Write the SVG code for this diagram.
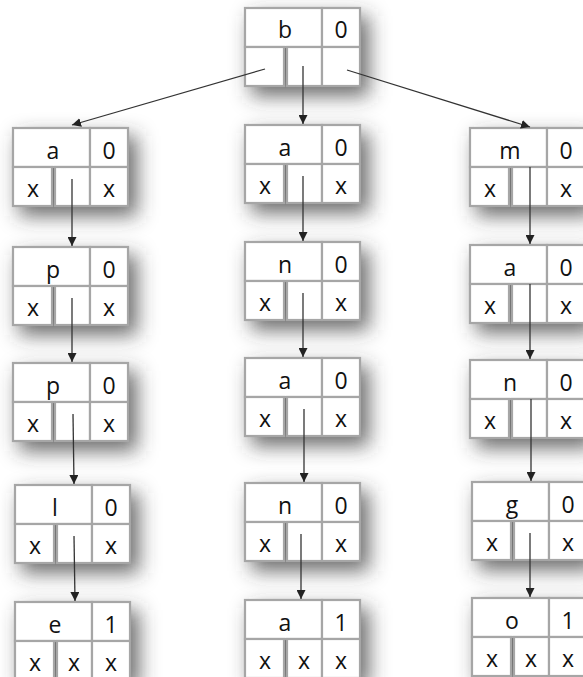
<svg xmlns="http://www.w3.org/2000/svg" width="583" height="677" viewBox="0 0 583 677">
<style>
.sd{fill:#3a3a3a;fill-opacity:0.75;filter:url(#blur)}
.c{fill:#fff;stroke:#a6a6a6;stroke-width:2.2}
.t{font-family:"Open Sans","Liberation Sans",sans-serif;font-size:23px;fill:#111;text-anchor:middle}
.e{stroke:#333;stroke-width:1.3;fill:none;marker-end:url(#ah)}
</style>
<defs>
<filter id="blur" x="-60%" y="-60%" width="220%" height="220%">
<feGaussianBlur stdDeviation="10"/>
</filter>
<marker id="ah" viewBox="0 0 10 10" refX="10" refY="5" markerWidth="9" markerHeight="9" markerUnits="userSpaceOnUse" orient="auto">
<path d="M0,0 L10,5 L0,10 Z" fill="#222"/>
</marker>
<g id="cells">
<rect class="sd" x="6" y="8" width="118" height="80"/>
<rect class="c" x="0" y="0" width="77" height="39"/>
<rect class="c" x="77" y="0" width="38" height="39"/>
<rect class="c" x="0" y="39" width="39" height="39"/>
<rect class="c" x="42" y="39" width="35" height="39"/>
<rect class="c" x="77" y="39" width="38" height="39"/>
</g>
</defs>

<g id="n-root" transform="translate(245,8)"><use href="#cells"/><text class="t" x="40" y="30">b</text><text class="t" x="96" y="30">0</text></g>

<g id="n-l1" transform="translate(13,128)"><use href="#cells"/><text class="t" x="40" y="31">a</text><text class="t" x="96" y="31">0</text><text class="t" x="20" y="69">x</text><text class="t" x="96" y="69">x</text></g>
<g id="n-l2" transform="translate(13,247)"><use href="#cells"/><text class="t" x="40" y="31">p</text><text class="t" x="96" y="31">0</text><text class="t" x="20" y="69">x</text><text class="t" x="96" y="69">x</text></g>
<g id="n-l3" transform="translate(13,363)"><use href="#cells"/><text class="t" x="40" y="31">p</text><text class="t" x="96" y="31">0</text><text class="t" x="20" y="69">x</text><text class="t" x="96" y="69">x</text></g>
<g id="n-l4" transform="translate(15,485)"><use href="#cells"/><text class="t" x="40" y="31">l</text><text class="t" x="96" y="31">0</text><text class="t" x="20" y="69">x</text><text class="t" x="96" y="69">x</text></g>
<g id="n-l5" transform="translate(15,602)"><use href="#cells"/><text class="t" x="40" y="31">e</text><text class="t" x="96" y="31">1</text><text class="t" x="20" y="69">x</text><text class="t" x="59" y="69">x</text><text class="t" x="96" y="69">x</text></g>

<g id="n-m1" transform="translate(245,125)"><use href="#cells"/><text class="t" x="40" y="31">a</text><text class="t" x="96" y="31">0</text><text class="t" x="20" y="69">x</text><text class="t" x="96" y="69">x</text></g>
<g id="n-m2" transform="translate(245,242)"><use href="#cells"/><text class="t" x="40" y="31">n</text><text class="t" x="96" y="31">0</text><text class="t" x="20" y="69">x</text><text class="t" x="96" y="69">x</text></g>
<g id="n-m3" transform="translate(245,358)"><use href="#cells"/><text class="t" x="40" y="31">a</text><text class="t" x="96" y="31">0</text><text class="t" x="20" y="69">x</text><text class="t" x="96" y="69">x</text></g>
<g id="n-m4" transform="translate(245,483)"><use href="#cells"/><text class="t" x="40" y="31">n</text><text class="t" x="96" y="31">0</text><text class="t" x="20" y="69">x</text><text class="t" x="96" y="69">x</text></g>
<g id="n-m5" transform="translate(245,600)"><use href="#cells"/><text class="t" x="40" y="31">a</text><text class="t" x="96" y="31">1</text><text class="t" x="20" y="69">x</text><text class="t" x="59" y="69">x</text><text class="t" x="96" y="69">x</text></g>

<g id="n-r1" transform="translate(470,128)"><use href="#cells"/><text class="t" x="40" y="31">m</text><text class="t" x="96" y="31">0</text><text class="t" x="20" y="69">x</text><text class="t" x="96" y="69">x</text></g>
<g id="n-r2" transform="translate(470,245)"><use href="#cells"/><text class="t" x="40" y="31">a</text><text class="t" x="96" y="31">0</text><text class="t" x="20" y="69">x</text><text class="t" x="96" y="69">x</text></g>
<g id="n-r3" transform="translate(470,360)"><use href="#cells"/><text class="t" x="40" y="31">n</text><text class="t" x="96" y="31">0</text><text class="t" x="20" y="69">x</text><text class="t" x="96" y="69">x</text></g>
<g id="n-r4" transform="translate(472,482)"><use href="#cells"/><text class="t" x="40" y="31">g</text><text class="t" x="96" y="31">0</text><text class="t" x="20" y="69">x</text><text class="t" x="96" y="69">x</text></g>
<g id="n-r5" transform="translate(472,598)"><use href="#cells"/><text class="t" x="40" y="31">o</text><text class="t" x="96" y="31">1</text><text class="t" x="20" y="69">x</text><text class="t" x="59" y="69">x</text><text class="t" x="96" y="69">x</text></g>

<g id="connectors">
<line class="e" x1="265" y1="69" x2="72" y2="125"/>
<line class="e" x1="303" y1="66" x2="303" y2="124"/>
<line class="e" x1="347" y1="70" x2="530" y2="127"/>

<line class="e" x1="72" y1="179" x2="72" y2="246"/>
<line class="e" x1="72" y1="298" x2="72" y2="362"/>
<line class="e" x1="73" y1="414" x2="74" y2="484"/>
<line class="e" x1="74" y1="536" x2="75" y2="601"/>

<line class="e" x1="303" y1="176" x2="303" y2="241"/>
<line class="e" x1="303" y1="293" x2="303" y2="357"/>
<line class="e" x1="304" y1="409" x2="304" y2="482"/>
<line class="e" x1="301" y1="534" x2="301" y2="599"/>

<line class="e" x1="530" y1="167" x2="530" y2="244"/>
<line class="e" x1="530" y1="284" x2="530" y2="359"/>
<line class="e" x1="531" y1="399" x2="531" y2="481"/>
<line class="e" x1="530" y1="533" x2="530" y2="597"/>
</g>
</svg>
